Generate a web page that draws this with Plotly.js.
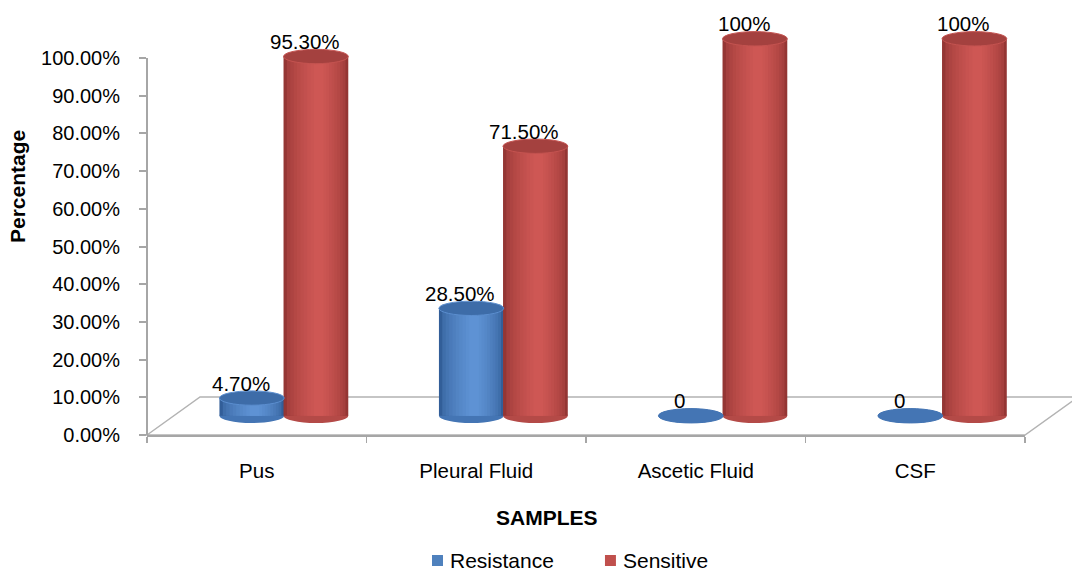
<!DOCTYPE html>
<html>
<head>
<meta charset="utf-8">
<script src="https://cdn.plot.ly/plotly-3.0.1.min.js"></script>
<style>
  html, body { margin: 0; padding: 0; background: #ffffff; }
  #chart { width: 1072px; height: 571px; }
</style>
</head>
<body>
<div id="chart"></div>
<script>
// Sample types and the share of isolates in each group (percent)
const categories = ['Pus', 'Pleural Fluid', 'Ascetic Fluid', 'CSF'];
const resistance = [4.7, 28.5, 0, 0];
const sensitive = [95.3, 71.5, 100, 100];
const resistanceLabels = ['4.70%', '28.50%', '0', '0'];
const sensitiveLabels = ['95.30%', '71.50%', '100%', '100%'];
const yTickVals = [0, 10, 20, 30, 40, 50, 60, 70, 80, 90, 100];
const yTickText = ['0.00%', '10.00%', '20.00%', '30.00%', '40.00%', '50.00%',
                   '60.00%', '70.00%', '80.00%', '90.00%', '100.00%'];

// Pseudo-3D geometry: cylinders stand on a floor lifted into the depth
const FLOOR_LIFT = 5.1;   // percentage points the cylinder base sits above 0
const BAR_W = 0.295;      // cylinder width in category units
const CAP_RY = 1.9;       // half height of the elliptic caps, in percentage points
const FONT = 'Liberation Sans, Arial, Helvetica, sans-serif';

const series = [
  { name: 'Resistance', values: resistance, labels: resistanceLabels, offset: -0.17,
    dark: [50, 94, 152], light: [94, 146, 212], top: '#3d6ca8', rim: '#5b8ecf',
    bottom: '#4475b4', legend: '#4f81bd' },
  { name: 'Sensitive', values: sensitive, labels: sensitiveLabels, offset: 0.122,
    dark: [148, 54, 52], light: [206, 87, 84], top: '#a4413f', rim: '#c45350',
    bottom: '#b44a47', legend: '#c0504d' }
];

function mix(c1, c2, t) {
  const c = c1.map((v, i) => Math.round(v + (c2[i] - v) * t));
  return 'rgb(' + c.join(',') + ')';
}

// Each cylinder body is a stack of nested bars that lighten towards the highlight
const LAYERS = 10;
const HIGHLIGHT = 0.55;
const traces = [];
series.forEach(s => {
  for (let k = 0; k < LAYERS; k++) {
    const t = k / (LAYERS - 1);
    const a = HIGHLIGHT * t * 0.85;
    const b = 1 - (1 - HIGHLIGHT) * t * 0.85;
    traces.push({
      type: 'bar',
      name: s.name,
      x: categories,
      y: s.values,
      base: categories.map(() => FLOOR_LIFT),
      offset: s.offset + a * BAR_W,
      width: (b - a) * BAR_W,
      marker: { color: mix(s.dark, s.light, Math.pow(t, 0.55)), line: { width: 0 } },
      showlegend: false,
      hoverinfo: 'skip'
    });
  }
});

const shapes = [];
// Floor of the 3D plot area
shapes.push({
  type: 'path', xref: 'paper', yref: 'paper', layer: 'below',
  path: 'M 0 0 L 0.0604 0.0916 L 1.0604 0.0916 L 1 0 Z',
  fillcolor: '#ffffff', line: { color: '#b3b3b3', width: 1.5 }
});
// Vertical value axis line
shapes.push({
  type: 'line', xref: 'paper', yref: 'y', x0: 0, x1: 0, y0: 0, y1: 100,
  line: { color: '#a6a6a6', width: 2 }
});

const annotations = [];
series.forEach(s => {
  s.values.forEach((v, i) => {
    const cx = i + s.offset + BAR_W / 2;
    // rounded bottom of the cylinder
    shapes.push({
      type: 'circle', xref: 'x', yref: 'y', layer: 'below',
      x0: cx - BAR_W / 2, x1: cx + BAR_W / 2,
      y0: FLOOR_LIFT - CAP_RY, y1: FLOOR_LIFT + CAP_RY,
      fillcolor: s.bottom, line: { width: 0 }
    });
    // top cap
    shapes.push({
      type: 'circle', xref: 'x', yref: 'y', layer: 'above',
      x0: cx - BAR_W / 2, x1: cx + BAR_W / 2,
      y0: FLOOR_LIFT + v - CAP_RY, y1: FLOOR_LIFT + v + CAP_RY,
      fillcolor: v > 0 ? s.top : s.bottom,
      line: { color: v > 0 ? s.rim : s.bottom, width: 1 }
    });
    annotations.push({
      x: cx, y: FLOOR_LIFT + v, xref: 'x', yref: 'y',
      text: s.labels[i], showarrow: false,
      xshift: -11, yshift: 15, yanchor: 'middle',
      font: { family: FONT, size: 20.5, color: '#000000' }
    });
  });
});

// Axis titles
annotations.push({
  xref: 'paper', yref: 'paper', x: -0.1469, y: 0.5976, textangle: -90,
  text: '<b>Percentage</b>', showarrow: false, xanchor: 'center', yanchor: 'middle',
  font: { family: FONT, size: 21, color: '#000000' }
});
annotations.push({
  xref: 'paper', yref: 'paper', x: 0.4556, y: -0.1988,
  text: '<b>SAMPLES</b>', showarrow: false, xanchor: 'center', yanchor: 'middle',
  font: { family: FONT, size: 21, color: '#000000' }
});

// Legend
const legendItems = [
  { s: series[0], x0: 0.3246, tx: 0.3428 },
  { s: series[1], x0: 0.5216, tx: 0.5399 }
];
legendItems.forEach(it => {
  shapes.push({
    type: 'rect', xref: 'paper', yref: 'paper',
    x0: it.x0, x1: it.x0 + 0.0125, y0: -0.3157, y1: -0.2892,
    fillcolor: it.s.legend, line: { width: 0 }
  });
  annotations.push({
    xref: 'paper', yref: 'paper', x: it.tx, y: -0.3024,
    text: it.s.name, showarrow: false, xanchor: 'left', yanchor: 'middle',
    font: { family: FONT, size: 21, color: '#000000' }
  });
});

const layout = {
  width: 1072, height: 571, autosize: false,
  margin: { l: 147, r: 47, t: 20, b: 136 },
  paper_bgcolor: '#ffffff', plot_bgcolor: 'rgba(0,0,0,0)',
  barmode: 'overlay',
  showlegend: false,
  font: { family: FONT, color: '#000000' },
  xaxis: {
    type: 'category', range: [-0.5, 3.5],
    showline: true, linecolor: '#a6a6a6', linewidth: 2,
    ticks: 'outside', tickson: 'boundaries', ticklen: 6,
    tickcolor: '#a6a6a6', tickwidth: 1.5,
    ticklabelstandoff: 16,
    tickfont: { family: FONT, size: 20.5, color: '#000000' },
    showgrid: false, zeroline: false, fixedrange: true
  },
  yaxis: {
    range: [0, 110.08],
    tickmode: 'array', tickvals: yTickVals, ticktext: yTickText,
    ticks: 'outside', ticklen: 7, tickcolor: '#a6a6a6', tickwidth: 2,
    ticklabelstandoff: 15,
    tickfont: { family: FONT, size: 20, color: '#000000' },
    showline: false, showgrid: false, zeroline: false, fixedrange: true
  },
  shapes: shapes,
  annotations: annotations
};

Plotly.newPlot('chart', traces, layout, { displayModeBar: false, staticPlot: true });
</script>
</body>
</html>
